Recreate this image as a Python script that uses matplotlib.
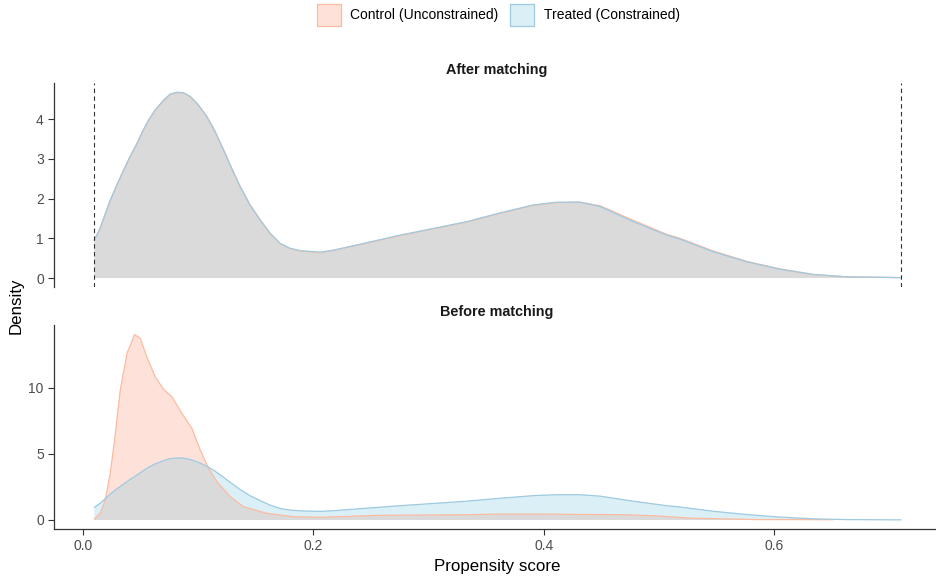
import matplotlib
matplotlib.use("Agg")
import matplotlib.pyplot as plt
from matplotlib.patches import Rectangle

plt.rcParams['font.family'] = ['Liberation Sans', 'DejaVu Sans']

# ---------------- data ----------------
groups = ["Control (Unconstrained)", "Treated (Constrained)"]
panels = ["After matching", "Before matching"]

# Treated density (same in both panels)
treated_x = [0.0096, 0.0145, 0.0234, 0.029, 0.035, 0.0406, 0.0466, 0.0521, 0.0567,
             0.0623, 0.0698, 0.0753, 0.0813, 0.0869, 0.093, 0.0999, 0.1074, 0.1144,
             0.1219, 0.1289, 0.1363, 0.1448, 0.1537, 0.1622, 0.171, 0.1796, 0.1885,
             0.2058, 0.2174, 0.2463, 0.2753, 0.3043, 0.3332, 0.3621, 0.391, 0.4113,
             0.4316, 0.449, 0.478, 0.5069, 0.5184, 0.5474, 0.5764, 0.6053, 0.6342,
             0.6632, 0.7104]
treated_y = [0.96, 1.25, 1.96, 2.34, 2.72, 3.06, 3.39, 3.73, 3.98,
             4.23, 4.48, 4.63, 4.68, 4.67, 4.57, 4.36, 4.06, 3.69,
             3.22, 2.76, 2.30, 1.84, 1.46, 1.13, 0.87, 0.75, 0.69,
             0.65, 0.70, 0.89, 1.08, 1.25, 1.42, 1.64, 1.84, 1.91,
             1.91, 1.80, 1.42, 1.08, 0.98, 0.66, 0.41, 0.22, 0.09,
             0.03, 0.01]

# Control density after matching (weighted) - almost identical to treated
control_after_x = [0.0096, 0.0145, 0.0234, 0.029, 0.035, 0.0406, 0.0466, 0.0521, 0.0567,
                   0.0623, 0.0698, 0.0753, 0.0813, 0.0869, 0.093, 0.0999, 0.1074, 0.1144,
                   0.1219, 0.1289, 0.1363, 0.1448, 0.1537, 0.1622, 0.171, 0.1796, 0.1885,
                   0.2058, 0.2174, 0.2463, 0.2753, 0.3043, 0.3332, 0.3621, 0.391, 0.4113,
                   0.4316, 0.449, 0.478, 0.5069, 0.5184, 0.5474, 0.5764, 0.6053, 0.6342,
                   0.6632, 0.7104]
control_after_y = [0.95, 1.24, 1.95, 2.33, 2.71, 3.05, 3.38, 3.72, 3.97,
                   4.22, 4.47, 4.62, 4.67, 4.66, 4.57, 4.36, 4.07, 3.70,
                   3.23, 2.77, 2.31, 1.85, 1.47, 1.13, 0.87, 0.74, 0.68,
                   0.64, 0.70, 0.88, 1.07, 1.24, 1.41, 1.63, 1.83, 1.90,
                   1.91, 1.82, 1.45, 1.10, 1.00, 0.68, 0.42, 0.23, 0.09,
                   0.03, 0.01]

# Control density before matching
control_before_x = [0.0096, 0.0148, 0.019, 0.0234, 0.0278, 0.0321, 0.038, 0.0446, 0.0495,
                    0.0553, 0.0625, 0.0698, 0.077, 0.0857, 0.0944, 0.1016, 0.1088, 0.1161,
                    0.1277, 0.1392, 0.1595, 0.1826, 0.2058, 0.255, 0.30, 0.333, 0.362,
                    0.40, 0.43, 0.47, 0.50, 0.53, 0.56, 0.585, 0.62, 0.651]
control_before_y = [0.08, 0.5, 1.5, 3.5, 6.5, 9.8, 12.6, 14.0, 13.7,
                    12.3, 10.8, 9.86, 9.3, 8.05, 6.9, 5.28, 3.9, 2.9,
                    1.76, 1.0, 0.5, 0.25, 0.2, 0.35, 0.38, 0.40, 0.45,
                    0.45, 0.42, 0.40, 0.30, 0.13, 0.08, 0.03, 0.03, 0.02]

# Range of the propensity score (dashed lines in the top panel)
ps_range = [0.0096, 0.7104]

x_ticks = [0.0, 0.2, 0.4, 0.6]
x_ticklabels = ["0.0", "0.2", "0.4", "0.6"]
top_yticks = [0, 1, 2, 3, 4]
bot_yticks = [0, 5, 10]

# ---------------- style ----------------
fill_cols = ["#FC9272", "#7BC5E1"]
edge_cols = ["#FCBBA1", "#9ECAE1"]
fill_alphas = [0.26, 0.27]
tick_col = "#4D4D4D"

W, H = 936, 579
fig = plt.figure(figsize=(W / 100, H / 100), dpi=100)


def ax_rect(l, t, r, b):
    return [l / W, 1 - b / H, (r - l) / W, (b - t) / H]


ax_top = fig.add_axes(ax_rect(53.5, 83, 936, 287.3))
ax_bot = fig.add_axes(ax_rect(53.5, 325, 936, 529))


def draw_density(ax, x, y, i):
    ax.fill_between(x, 0, y, facecolor=fill_cols[i], alpha=fill_alphas[i], linewidth=0)
    ax.plot(x, y, color=edge_cols[i], lw=0.9, solid_joinstyle='round')


draw_density(ax_top, control_after_x, control_after_y, 0)
draw_density(ax_top, treated_x, treated_y, 1)
for v in ps_range:
    ax_top.axvline(v, color="#333333", lw=0.8, ls=(0, (4, 3)))

draw_density(ax_bot, control_before_x, control_before_y, 0)
draw_density(ax_bot, treated_x, treated_y, 1)

for ax in (ax_top, ax_bot):
    ax.set_xlim(-0.0259, 0.7409)
    for s in ("top", "right"):
        ax.spines[s].set_visible(False)
    ax.spines["left"].set_color("#333333")
    ax.spines["left"].set_linewidth(0.9)
    ax.tick_params(axis="both", direction="out", length=4, width=0.8, color="#333333",
                   labelsize=10, labelcolor=tick_col, pad=3)

ax_top.set_ylim(-0.234, 4.912)
ax_top.set_yticks(top_yticks)
ax_top.spines["bottom"].set_visible(False)
ax_top.set_xticks([])

ax_bot.set_ylim(-0.68, 14.72)
ax_bot.set_yticks(bot_yticks)
ax_bot.set_xticks(x_ticks)
ax_bot.set_xticklabels(x_ticklabels)
ax_bot.spines["bottom"].set_color("#333333")
ax_bot.spines["bottom"].set_linewidth(0.9)

# strip titles
fig.text(497 / W, 1 - 70 / H, panels[0], ha="center", va="center",
         fontsize=10.4, fontweight="bold", color="#1A1A1A")
fig.text(497 / W, 1 - 312 / H, panels[1], ha="center", va="center",
         fontsize=10.4, fontweight="bold", color="#1A1A1A")

# axis titles
fig.text(497 / W, 1 - 566 / H, "Propensity score", ha="center", va="center",
         fontsize=12.2, color="black")
fig.text(16 / W, 1 - 306 / H, "Density", ha="center", va="center",
         fontsize=12.2, color="black", rotation=90)

# legend
legend_boxes = [(317, 4), (510.5, 4)]
legend_text_x = [350, 543.5]
for i in range(2):
    bx, by = legend_boxes[i]
    fig.patches.append(Rectangle((bx / W, 1 - (by + 22) / H), 23.5 / W, 22 / H,
                                 transform=fig.transFigure, facecolor=fill_cols[i],
                                 alpha=fill_alphas[i], edgecolor="none"))
    fig.patches.append(Rectangle((bx / W, 1 - (by + 22) / H), 23.5 / W, 22 / H,
                                 transform=fig.transFigure, facecolor="none",
                                 edgecolor=edge_cols[i], lw=0.9))
    fig.text(legend_text_x[i] / W, 1 - 15.5 / H, groups[i], ha="left", va="center",
             fontsize=10, color="black")

fig.savefig("out.png", dpi=100)
